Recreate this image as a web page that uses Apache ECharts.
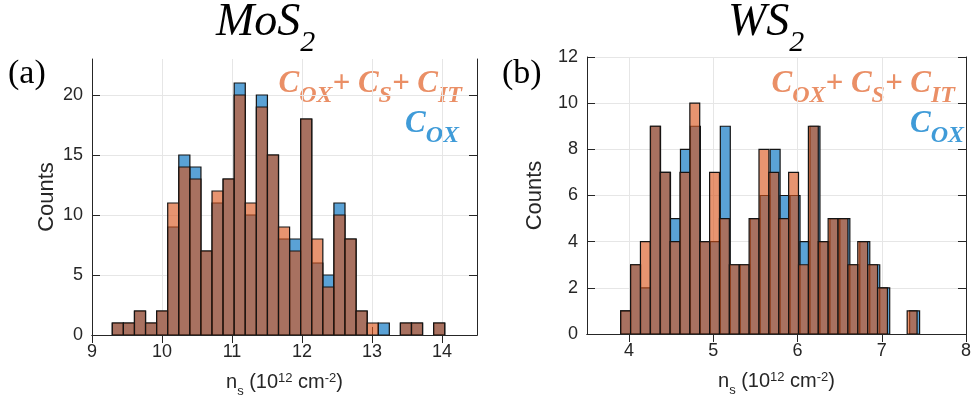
<!DOCTYPE html>
<html>
<head>
<meta charset="utf-8">
<script src="https://cdn.jsdelivr.net/npm/echarts@6/dist/echarts.min.js"></script>
<style>
html,body{margin:0;padding:0;background:#fff;}
#chart{width:974px;height:408px;}
</style>
</head>
<body>
<div id="chart"></div>
<script>
// ---------- data ----------
// (a) MoS2 histogram: 30 bins
const mosBinStart = 9.29;
const mosBinWidth = 0.1583;
const mosCox = [1,1,2,1,2,9,15,14,7,11,13,21,10,20,15,8,8,18,6,5,11,8,2,0,1,0,1,1,0,1];
const mosAll = [1,1,2,1,2,11,14,13,7,12,13,20,11,19,15,9,7,18,8,4,10,8,2,1,0,0,1,1,0,1];
const mosXTicks = [9,10,11,12,13,14];
const mosYTicks = [0,5,10,15,20];

// (b) WS2 histogram: 30 bins
const wsCoxBinStart = 3.90;
const wsCoxBinWidth = 0.1183;
const wsAllBinStart = 3.90;
const wsAllBinWidth = 0.1173;
const wsCox = [1,3,2,9,7,5,8,9,4,4,9,3,3,5,6,8,6,6,4,9,4,5,5,3,4,3,2,0,0,1];
const wsAll = [1,3,4,9,7,4,7,10,4,7,5,3,3,5,8,7,5,7,3,9,4,5,5,3,4,3,2,0,0,1];
const wsXTicks = [4,5,6,7,8];
const wsYTicks = [0,2,4,6,8,10,12];

// ---------- helpers ----------
function bins(start, width, counts) {
  return counts.map((c, i) => [start + i * width, start + (i + 1) * width, c]);
}
const BLUE = '#5aa2d6';
const ORANGE = 'rgba(217,83,25,0.62)';
const AXIS = '#262626';
const GRID = '#e6e6e6';
const TXT = '#262626';

function barRenderer(fill) {
  return function (params, api) {
    const x0 = api.value(0), x1 = api.value(1), y = api.value(2);
    if (!y) return null;
    const p0 = api.coord([x0, y]);
    const p1 = api.coord([x1, 0]);
    return {
      type: 'rect',
      shape: { x: p0[0], y: p0[1], width: p1[0] - p0[0], height: p1[1] - p0[1] },
      style: { fill: fill, stroke: '#141414', lineWidth: 1.2 }
    };
  };
}

const nameRich = {
  n: { fontFamily: 'Liberation Sans', fontSize: 20, color: TXT, lineHeight: 26, verticalAlign: 'top' },
  s: { fontFamily: 'Liberation Sans', fontSize: 13, color: TXT, lineHeight: 10, verticalAlign: 'bottom' },
  p: { fontFamily: 'Liberation Sans', fontSize: 13, color: TXT, lineHeight: 8, verticalAlign: 'top' }
};
const xName = '{n|n}{s|s}{n| (10}{p|12}{n| cm}{p|-2}{n|)}';

function mainX(grid, min, max, ticks) {
  return {
    type: 'value', gridIndex: grid, min: min, max: max, position: 'bottom',
    name: xName, nameLocation: 'middle', nameGap: 37,
    nameTextStyle: { rich: nameRich },
    axisLine: { show: true, lineStyle: { color: AXIS, width: 1 } },
    axisTick: { show: true, inside: true, length: 8, customValues: ticks, lineStyle: { color: AXIS } },
    axisLabel: { show: true, customValues: ticks, fontFamily: 'Liberation Sans', fontSize: 18, color: TXT, margin: 8 },
    splitLine: { show: true, lineStyle: { color: GRID, width: 1 } }
  };
}
function topX(grid, min, max, ticks) {
  return {
    type: 'value', gridIndex: grid, min: min, max: max, position: 'top',
    axisLine: { show: true, lineStyle: { color: AXIS, width: 1 } },
    axisTick: { show: true, inside: true, length: 8, customValues: ticks, lineStyle: { color: AXIS } },
    axisLabel: { show: false },
    splitLine: { show: false }
  };
}
function mainY(grid, min, max, ticks, gap) {
  return {
    type: 'value', gridIndex: grid, min: min, max: max, position: 'left',
    name: 'Counts', nameLocation: 'middle', nameGap: gap,
    nameTextStyle: { fontFamily: 'Liberation Sans', fontSize: 22, color: TXT },
    axisLine: { show: true, lineStyle: { color: AXIS, width: 1 } },
    axisTick: { show: true, inside: true, length: 8, customValues: ticks, lineStyle: { color: AXIS } },
    axisLabel: { show: true, customValues: ticks, fontFamily: 'Liberation Sans', fontSize: 18, color: TXT, margin: 9 },
    splitLine: { show: true, lineStyle: { color: GRID, width: 1 } }
  };
}
function rightY(grid, min, max, ticks) {
  return {
    type: 'value', gridIndex: grid, min: min, max: max, position: 'right',
    axisLine: { show: true, lineStyle: { color: AXIS, width: 1 } },
    axisTick: { show: true, inside: true, length: 8, customValues: ticks, lineStyle: { color: AXIS } },
    axisLabel: { show: false },
    splitLine: { show: false }
  };
}

const SERIF = 'Liberation Serif';
const legRich = function (color) {
  return {
    c: { fontFamily: SERIF, fontStyle: 'italic', fontWeight: 'bold', fontSize: 31, fill: color, lineHeight: 32, verticalAlign: 'top' },
    b: { fontFamily: SERIF, fontStyle: 'italic', fontWeight: 'bold', fontSize: 24, fill: color, lineHeight: 40, verticalAlign: 'bottom' }
  };
};
const titleRich = {
  m: { fontFamily: SERIF, fontStyle: 'italic', fontSize: 46, fill: '#000', lineHeight: 46, verticalAlign: 'top' },
  s: { fontFamily: SERIF, fontStyle: 'italic', fontSize: 30, fill: '#000', lineHeight: 58, verticalAlign: 'bottom' }
};
const ORANGE_TXT = '#ea8f66';
const BLUE_TXT = '#3f9bd8';

const option = {
  animation: false,
  backgroundColor: '#fff',
  grid: [
    { left: 92, top: 59, width: 385, height: 276 },
    { left: 587, top: 57, width: 381, height: 277 }
  ],
  xAxis: [
    mainX(0, 9, 14.5, mosXTicks),
    topX(0, 9, 14.5, mosXTicks),
    mainX(1, 3.5, 8, wsXTicks),
    topX(1, 3.5, 8, wsXTicks)
  ],
  yAxis: [
    mainY(0, 0, 23, mosYTicks, 34),
    rightY(0, 0, 23, mosYTicks),
    mainY(1, 0, 12, wsYTicks, 41),
    rightY(1, 0, 12, wsYTicks)
  ],
  series: [
    { type: 'custom', name: 'MoS2 Cox', xAxisIndex: 0, yAxisIndex: 0, clip: true,
      encode: { x: [0, 1], y: 2 }, data: bins(mosBinStart, mosBinWidth, mosCox), renderItem: barRenderer(BLUE) },
    { type: 'custom', name: 'MoS2 all', xAxisIndex: 0, yAxisIndex: 0, clip: true,
      encode: { x: [0, 1], y: 2 }, data: bins(mosBinStart, mosBinWidth, mosAll), renderItem: barRenderer(ORANGE) },
    { type: 'custom', name: 'WS2 Cox', xAxisIndex: 2, yAxisIndex: 2, clip: true,
      encode: { x: [0, 1], y: 2 }, data: bins(wsCoxBinStart, wsCoxBinWidth, wsCox), renderItem: barRenderer(BLUE) },
    { type: 'custom', name: 'WS2 all', xAxisIndex: 2, yAxisIndex: 2, clip: true,
      encode: { x: [0, 1], y: 2 }, data: bins(wsAllBinStart, wsAllBinWidth, wsAll), renderItem: barRenderer(ORANGE) }
  ],
  graphic: [
    { type: 'text', left: 216, top: 0, style: { text: '{m|MoS}{s|2}', rich: titleRich } },
    { type: 'text', left: 728, top: 0, style: { text: '{m|WS}{s|2}', rich: titleRich } },
    { type: 'text', left: 8, top: 57, style: { text: '(a)', fontFamily: SERIF, fontSize: 34, fill: '#000' } },
    { type: 'text', left: 502, top: 57, style: { text: '(b)', fontFamily: SERIF, fontSize: 34, fill: '#000' } },
    { type: 'text', right: 974 - 462, top: 68, style: { text: '{c|C}{b|OX}{c|+ C}{b|S}{c|+ C}{b|IT}', rich: legRich(ORANGE_TXT) } },
    { type: 'text', right: 974 - 459, top: 108, style: { text: '{c|C}{b|OX}', rich: legRich(BLUE_TXT) } },
    { type: 'text', right: 974 - 955, top: 68, style: { text: '{c|C}{b|OX}{c|+ C}{b|S}{c|+ C}{b|IT}', rich: legRich(ORANGE_TXT) } },
    { type: 'text', right: 974 - 964, top: 108, style: { text: '{c|C}{b|OX}', rich: legRich(BLUE_TXT) } }
  ]
};

const chart = echarts.init(document.getElementById('chart'), null, { renderer: 'canvas' });
chart.setOption(option);
</script>
</body>
</html>
